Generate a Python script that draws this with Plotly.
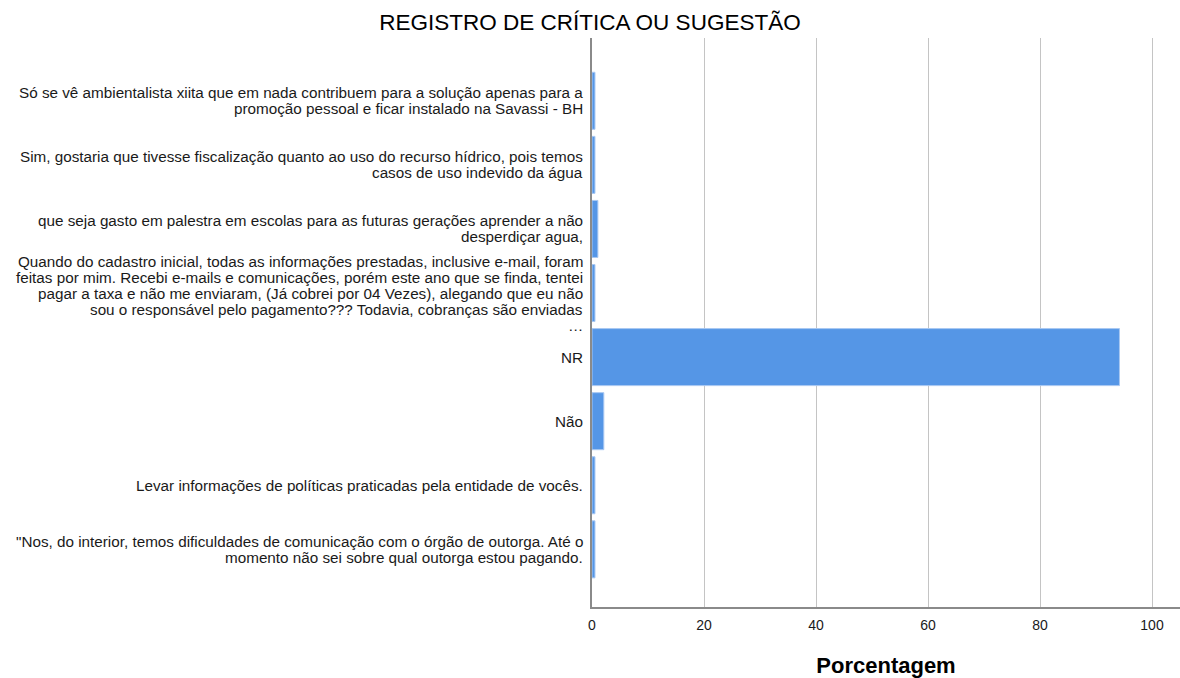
import plotly.graph_objects as go

# Respostas (de cima para baixo) e porcentagem de cada uma
respostas = [
    "Só se vê ambientalista xiita que em nada contribuem para a solução apenas para a<br>promoção pessoal e ficar instalado na Savassi - BH",
    "Sim, gostaria que tivesse fiscalização quanto ao uso do recurso hídrico, pois temos<br>casos de uso indevido da água",
    "que seja gasto em palestra em escolas para as futuras gerações aprender a não<br>desperdiçar agua,",
    "Quando do cadastro inicial, todas as informações prestadas, inclusive e-mail, foram<br>feitas por mim. Recebi e-mails e comunicações, porém este ano que se finda, tentei<br>pagar a taxa e não me enviaram, (Já cobrei por 04 Vezes), alegando que eu não<br>sou o responsável pelo pagamento??? Todavia, cobranças são enviadas<br>…",
    "NR",
    "Não",
    "Levar informações de políticas praticadas pela entidade de vocês.",
    "\"Nos, do interior, temos dificuldades de comunicação com o órgão de outorga. Até o<br>momento não sei sobre qual outorga estou pagando.",
]
porcentagem = [0.53, 0.53, 1.05, 0.53, 94.19, 2.11, 0.53, 0.53]

x_ticks = [0, 20, 40, 60, 80, 100]

FONT = "Liberation Sans, Arial, sans-serif"
LABEL_SIZE = 15.25
LINE_GAP = 16  # px between lines of a category label

fig = go.Figure(
    go.Bar(
        x=porcentagem,
        y=list(range(len(respostas))),
        orientation="h",
        width=0.89,
        marker=dict(color="#5596E6", line=dict(color="#a9c8f2", width=1)),
        hoverinfo="x",
    )
)

# Category labels: one right-aligned line per annotation, for tight line spacing
annotations = []
for i, label in enumerate(respostas):
    lines = label.split("<br>")
    n = len(lines)
    for j, line in enumerate(lines):
        annotations.append(
            dict(
                text=line,
                xref="paper",
                x=0,
                xanchor="right",
                xshift=-7,
                yref="y",
                y=i,
                yanchor="middle",
                yshift=((n - 1) / 2 - j) * LINE_GAP,
                showarrow=False,
                align="right",
                font=dict(family=FONT, size=LABEL_SIZE, color="#1a1a1a"),
            )
        )

fig.update_layout(
    width=1180,
    height=678,
    margin=dict(l=592, r=0, t=38, b=71),
    paper_bgcolor="white",
    plot_bgcolor="white",
    showlegend=False,
    font=dict(family=FONT, size=14, color="#1a1a1a"),
    title=dict(
        text="REGISTRO DE CRÍTICA OU SUGESTÃO",
        x=0.5,
        xanchor="center",
        y=0.967,
        yanchor="middle",
        font=dict(family=FONT, size=22.5, color="#000000"),
    ),
    annotations=annotations,
)

fig.update_xaxes(
    range=[0, 105],
    tickvals=x_ticks,
    ticktext=[str(v) for v in x_ticks],
    showgrid=True,
    gridcolor="#c4c4c4",
    gridwidth=1,
    zeroline=False,
    showline=True,
    linecolor="#8a8a8a",
    linewidth=1.5,
    ticks="",
    ticklabelstandoff=4,
    title=dict(
        text="<b>Porcentagem</b>",
        font=dict(family=FONT, size=22, color="#000000"),
        standoff=26,
    ),
)

fig.update_yaxes(
    range=[7.9, -0.98],
    tickvals=list(range(len(respostas))),
    showticklabels=False,
    showgrid=False,
    zeroline=False,
    showline=True,
    linecolor="#8a8a8a",
    linewidth=1.5,
    ticks="",
)

fig.write_html("out.html")
